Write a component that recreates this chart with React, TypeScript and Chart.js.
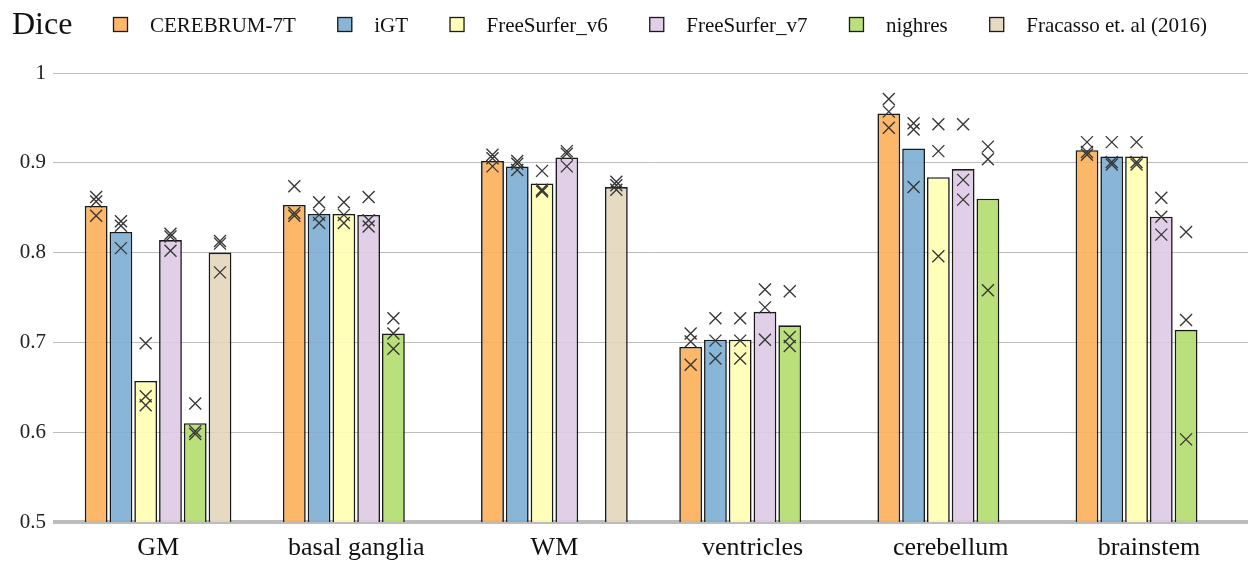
import React, { useEffect, useRef } from "react";
import { Chart, registerables } from "chart.js";

Chart.register(...registerables);

// Structures compared
const categories = ["GM", "basal ganglia", "WM", "ventricles", "cerebellum", "brainstem"];

// Method names (legend order)
const methods = ["CEREBRUM-7T", "iGT", "FreeSurfer_v6", "FreeSurfer_v7", "nighres", "Fracasso et. al (2016)"];

// Mean Dice per structure
const cerebrum7T = [0.852, 0.853, 0.902, 0.695, 0.955, 0.914];
const igt = [0.823, 0.843, 0.896, 0.703, 0.916, 0.907];
const freeSurferV6 = [0.657, 0.843, 0.877, 0.703, 0.884, 0.907];
const freeSurferV7 = [0.814, 0.842, 0.906, 0.734, 0.893, 0.84];
const nighres = [0.61, 0.71, null, 0.719, 0.86, 0.714];
const fracasso = [0.8, null, 0.873, null, null, null];

// Per-subject Dice scores (drawn as crosses over each bar)
const cerebrum7TSubjects = [
  [0.862, 0.857, 0.841], [0.874, 0.844, 0.841], [0.909, 0.905, 0.896],
  [0.71, 0.701, 0.675], [0.971, 0.957, 0.939], [0.923, 0.912, 0.909],
];
const igtSubjects = [
  [0.835, 0.83, 0.805], [0.856, 0.842, 0.833], [0.902, 0.899, 0.892],
  [0.727, 0.702, 0.682], [0.944, 0.937, 0.873], [0.923, 0.901, 0.898],
];
const freeSurferV6Subjects = [
  [0.699, 0.64, 0.63], [0.856, 0.842, 0.833], [0.891, 0.87, 0.868],
  [0.727, 0.702, 0.682], [0.943, 0.913, 0.796], [0.923, 0.901, 0.898],
];
const freeSurferV7Subjects = [
  [0.821, 0.818, 0.802], [0.862, 0.836, 0.829], [0.913, 0.91, 0.896],
  [0.759, 0.739, 0.703], [0.943, 0.881, 0.859], [0.861, 0.84, 0.82],
];
const nighresSubjects = [
  [0.632, 0.601, 0.598], [0.727, 0.71, 0.693], [],
  [0.757, 0.706, 0.696], [0.918, 0.904, 0.758], [0.823, 0.725, 0.592],
];
const fracassoSubjects = [
  [0.813, 0.81, 0.778], [], [0.879, 0.875, 0.87], [], [], [],
];

// Y axis ticks
const yTicks = [0.5, 0.6, 0.7, 0.8, 0.9, 1];

// Bar fills are slightly translucent so the grid shows through faintly
const barColors = [
  "rgba(253,175,89,0.9)",
  "rgba(124,174,209,0.9)",
  "rgba(255,255,179,0.9)",
  "rgba(221,202,227,0.9)",
  "rgba(177,221,107,0.9)",
  "rgba(227,214,188,0.9)",
];
const swatchColors = ["#fdb76a", "#89b6d6", "#ffffbb", "#e0cfe6", "#b9e07a", "#e6dac3"];
const means = [cerebrum7T, igt, freeSurferV6, freeSurferV7, nighres, fracasso];
const subjects = [
  cerebrum7TSubjects, igtSubjects, freeSurferV6Subjects,
  freeSurferV7Subjects, nighresSubjects, fracassoSubjects,
];

const SERIF = '"Liberation Serif", "Times New Roman", serif';
const BORDER = "#1a1a1a";
const GRID = "#bcbcbc";

const decorPlugin = {
  id: "diceDecor",
  afterDatasetsDraw(chart: any) {
    const ctx = chart.ctx;
    const yScale = chart.scales.y;
    ctx.save();
    ctx.strokeStyle = "#363636";
    ctx.lineWidth = 1.35;
    const s = 6;
    subjects.forEach((perCat, i) => {
      const meta = chart.getDatasetMeta(i);
      perCat.forEach((vals, j) => {
        const el = meta.data[j];
        if (!el || !vals.length) return;
        const x = el.x;
        vals.forEach((v) => {
          const y = yScale.getPixelForValue(v);
          ctx.beginPath();
          ctx.moveTo(x - s, y - s);
          ctx.lineTo(x + s, y + s);
          ctx.moveTo(x + s, y - s);
          ctx.lineTo(x - s, y + s);
          ctx.stroke();
        });
      });
    });
    ctx.restore();
  },
  afterDraw(chart: any) {
    const ctx = chart.ctx;
    ctx.save();
    ctx.fillStyle = "#111";
    ctx.textBaseline = "alphabetic";
    ctx.textAlign = "left";
    ctx.font = `32px ${SERIF}`;
    ctx.fillText("Dice", 12, 34);

    // legend row, spread between its two ends
    const startX = 113;
    const endX = 1207;
    const box = 15;
    const boxGap = 22;
    ctx.font = `21px ${SERIF}`;
    const widths = methods.map((m) => ctx.measureText(m).width);
    const used = widths.reduce((a, w) => a + box + boxGap + w, 0);
    const gap = (endX - startX - used) / (methods.length - 1);
    let x = startX;
    methods.forEach((m, i) => {
      ctx.fillStyle = swatchColors[i];
      ctx.fillRect(x, 17, box, box);
      ctx.strokeStyle = BORDER;
      ctx.lineWidth = 1.3;
      ctx.strokeRect(x + 0.5, 17.5, box - 1, box - 1);
      ctx.fillStyle = "#111";
      ctx.fillText(m, x + box + boxGap, 32);
      x += box + boxGap + widths[i] + gap;
    });
    ctx.restore();
  },
};

export default function App() {
  const canvasRef = useRef<HTMLCanvasElement | null>(null);

  useEffect(() => {
    document.body.style.margin = "0";
    const canvas = canvasRef.current;
    if (!canvas) return;
    const chart = new Chart(canvas, {
      type: "bar",
      data: {
        labels: categories,
        datasets: methods.map((m, i) => ({
          label: m,
          data: means[i] as any,
          backgroundColor: barColors[i],
          borderColor: BORDER,
          borderWidth: 1.6,
          categoryPercentage: 0.75,
          barPercentage: 0.92,
        })),
      },
      options: {
        responsive: false,
        animation: false,
        devicePixelRatio: 1,
        layout: { padding: { top: 73, right: 0, left: 0, bottom: 0 } },
        plugins: {
          legend: { display: false },
          tooltip: { enabled: false },
        },
        scales: {
          x: {
            grid: { display: false, drawTicks: false },
            border: { display: false },
            ticks: {
              color: "#111",
              font: { family: SERIF, size: 26 },
              padding: 11,
              maxRotation: 0,
              autoSkip: false,
            },
            afterFit(scale: any) {
              scale.height = 40;
            },
          },
          y: {
            min: 0.5,
            max: 1,
            afterBuildTicks(scale: any) {
              scale.ticks = yTicks.map((v) => ({ value: v }));
            },
            grid: {
              color: GRID,
              tickColor: GRID,
              lineWidth: (c: any) => (c.tick && c.tick.value === 0.5 ? 4 : 1),
              drawTicks: true,
              tickLength: 6,
            },
            border: { display: false },
            ticks: {
              color: "#222",
              font: { family: SERIF, size: 21 },
              padding: 7,
              callback: (v: any) => String(Number(v)),
            },
            afterFit(scale: any) {
              scale.width = 59;
            },
          },
        },
      },
      plugins: [decorPlugin],
    });
    return () => chart.destroy();
  }, []);

  return (
    <div style={{ position: "fixed", left: 0, top: 0, width: 1248, height: 562, background: "#fff" }}>
      <canvas ref={canvasRef} width={1248} height={562} />
    </div>
  );
}
